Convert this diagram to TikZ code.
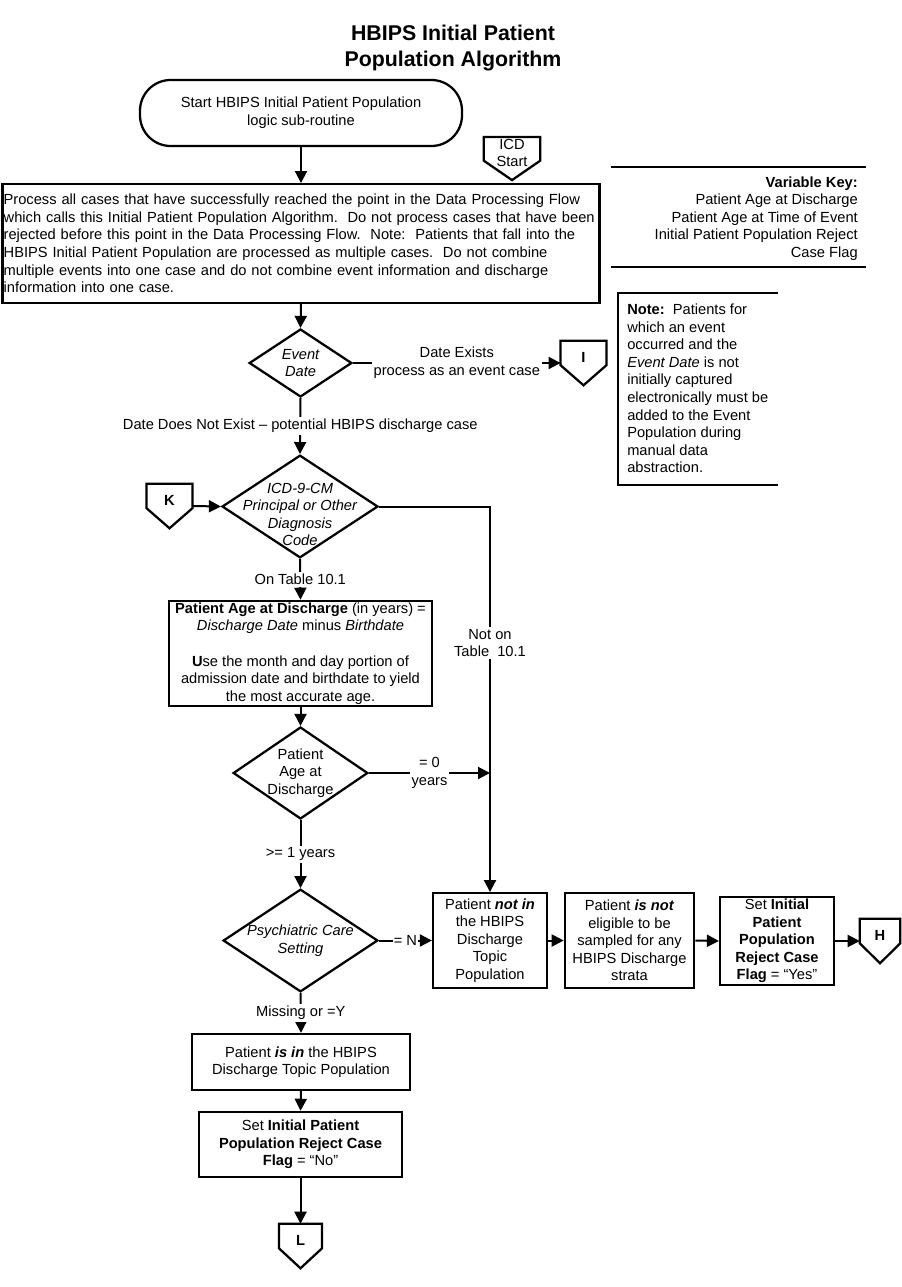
\documentclass[tikz,border=0pt]{standalone}
\usepackage{fontspec}
\setmainfont{Liberation Sans}
\usetikzlibrary{shapes.geometric,arrows.meta,calc}
\newcommand\offpage[7]{% name, cx, cy, width, height, text, font
  \node[inner sep=0pt, minimum width=#4, minimum height=#5] (#1) at (#2,#3) {};
  \draw[conn] (#1.north west) -- (#1.north east) -- ($(#1.north east)!0.55!(#1.south east)$)
     -- (#1.south) -- ($(#1.north west)!0.55!(#1.south west)$) -- cycle;
  \node[align=center, inner sep=0pt, font=#7] (#1t) at ($(#1.north)!0.37!(#1.south)$) {#6};
}
\begin{document}
\begin{tikzpicture}[x=0.75pt,y=-0.75pt,
  every node/.style={font=\fontsize{11}{13.2}\selectfont},
  box/.style={draw, line width=1.7pt, align=center, inner sep=1pt},
  term/.style={box, rounded corners=23pt},
  dia/.style={draw, diamond, line width=1.7pt, inner sep=0pt},
  ital/.style={font=\fontsize{11}{13.2}\selectfont\itshape, align=center},
  lbl/.style={fill=white, inner sep=1.5pt, align=center},
  conn/.style={line width=1.7pt, line join=miter},
  arr/.style={line width=1.5pt, -{Triangle[length=9pt,width=9pt]}},
  rule/.style={line width=2pt}
]
\useasboundingbox (0,0) rectangle (901,1287);

% title
\node[font=\fontsize{16}{19.5}\selectfont\bfseries, align=center] (title) at (453,48)
  {HBIPS Initial Patient\\Population Algorithm};

% start terminal
\node[term, minimum width=241.5pt, minimum height=49.5pt] (start) at (301,113)
  {Start HBIPS Initial Patient Population\\logic sub-routine};

% ICD start connector
\offpage{icd}{512}{158.5}{42pt}{32pt}{ICD\\Start}{\fontsize{11}{13.2}\selectfont}

% process box
\node[box, align=left, text width=446pt, inner xsep=0.9pt, minimum height=89pt] (proc) at (301,243.5)
  {Process all cases that have successfully reached the point in the Data Processing Flow\\
   which calls this Initial Patient Population Algorithm.\ \ Do not process cases that have been\\
   rejected before this point in the Data Processing Flow.\ \ Note:\ \ Patients that fall into the\\
   HBIPS Initial Patient Population are processed as multiple cases.\ \ Do not combine\\
   multiple events into one case and do not combine event information and discharge\\
   information into one case.};

% variable key
\coordinate (vk1) at (611,167);
\coordinate (vk2) at (866,167);
\coordinate (vk3) at (611,267);
\coordinate (vk4) at (866,267);
\draw[rule] (vk1) -- (vk2);
\draw[rule] (vk3) -- (vk4);
\node[align=right, anchor=east, inner sep=0pt] (vkey) at (858,218.5)
  {\textbf{Variable Key:}\\Patient Age at Discharge\\Patient Age at Time of Event\\Initial Patient Population Reject\\Case Flag};

% note
\coordinate (nt1) at (778,293);
\coordinate (nt2) at (618,293);
\coordinate (nt3) at (618,485);
\coordinate (nt4) at (778,485);
\draw[conn] (nt1) -- (nt2) -- (nt3) -- (nt4);
\node[align=left, anchor=west, inner sep=0pt] (note) at (627,388.5)
  {\textbf{Note:}\ \ Patients for\\which an event\\occurred and the\\\textit{Event Date} is not\\initially captured\\electronically must be\\added to the Event\\Population during\\manual data\\abstraction.};

% event date
\node[dia, minimum width=77pt, minimum height=51pt,
  label={[ital]center:Event\\Date}] (d1) at (300.5,363) {};
\offpage{I}{583.5}{363}{34pt}{33pt}{I}{\fontsize{11}{13.2}\selectfont\bfseries}

% ICD diamond
\node[dia, minimum width=117pt, minimum height=77pt,
  label={[ital, yshift=-6pt]center:ICD-9-CM\\Principal or Other\\Diagnosis\\Code}] (d2) at (300,506.5) {};
\offpage{K}{169.5}{506}{34pt}{33pt}{K}{\fontsize{11}{13.2}\selectfont\bfseries}

% age box
\node[box, minimum width=197pt, minimum height=79pt] (age) at (300.5,653.5)
  {\textbf{Patient Age at Discharge} (in years) =\\\textit{Discharge Date} minus \textit{Birthdate}\\[13.2pt]
   \textbf{U}se the month and day portion of\\admission date and birthdate to yield\\the most accurate age.};

% age diamond
\node[dia, minimum width=101pt, minimum height=69pt,
  label={[align=center]center:Patient\\Age at\\Discharge}] (d3) at (300.5,773) {};

% psychiatric diamond
\node[dia, minimum width=116pt, minimum height=77pt,
  label={[ital]center:Psychiatric Care\\Setting}] (d4) at (300.5,940.5) {};

% right row
\node[box, minimum width=85.5pt, minimum height=71pt] (notin) at (490,940.5)
  {Patient \textbf{\textit{not in}}\\the HBIPS\\Discharge\\Topic\\Population};
\node[box, minimum width=97pt, minimum height=71pt] (noelig) at (629.5,940.5)
  {Patient \textbf{\textit{is not}}\\eligible to be\\sampled for any\\HBIPS Discharge\\strata};
\node[box, minimum width=85.5pt, minimum height=66pt] (setyes) at (777,941)
  {Set \textbf{Initial}\\\textbf{Patient}\\\textbf{Population}\\\textbf{Reject Case}\\\textbf{Flag} = “Yes”};
\offpage{H}{880}{941}{30pt}{33pt}{H}{\fontsize{11}{13.2}\selectfont\bfseries}

% bottom
\node[box, minimum width=163.5pt, minimum height=42pt] (isin) at (301,1062)
  {Patient \textbf{\textit{is in}} the HBIPS\\Discharge Topic Population};
\node[box, minimum width=152pt, minimum height=49pt] (setno) at (300.5,1144.5)
  {Set \textbf{Initial Patient}\\\textbf{Population Reject Case}\\\textbf{Flag} = “No”};
\offpage{L}{300.5}{1246}{32pt}{33pt}{L}{\fontsize{11}{13.2}\selectfont\bfseries}

% connectors
\draw[arr] (start.south) -- (proc.north);
\draw[arr] (proc.south) -- (d1.north);
\draw[arr] (d1.east) -- node[lbl]{Date Exists\\process as an event case} (I.west);
\draw[arr] (d1.south) -- node[lbl]{Date Does Not Exist – potential HBIPS discharge case} (d2.north);
\draw[arr] (K.east) -- (d2.west);
\draw[arr] (d2.east) -| node[lbl, pos=0.677]{Not on\\Table\ \ 10.1} (notin.north);
\draw[arr] (d2.south) -- node[lbl]{On Table 10.1} (age.north);
\draw[arr] (age.south) -- (d3.north);
\coordinate (j) at (notin.north |- d3.east);
\draw[arr] (d3.east) -- node[lbl]{= 0\\years} (j);
\draw[arr] (d3.south) -- node[lbl]{>= 1 years} (d4.north);
\draw[arr] (d4.east) -- node[lbl, inner sep=0.5pt]{= N} (notin.west);
\draw[arr] (notin.east) -- (noelig.west);
\draw[arr] (noelig.east) -- (setyes.west);
\draw[arr] (setyes.east) -- (H.west);
\draw[arr] (d4.south) -- node[lbl]{Missing or =Y} (isin.north);
\draw[arr] (isin.south) -- (setno.north);
\draw[arr] (setno.south) -- (L.north);
\end{tikzpicture}
\end{document}
